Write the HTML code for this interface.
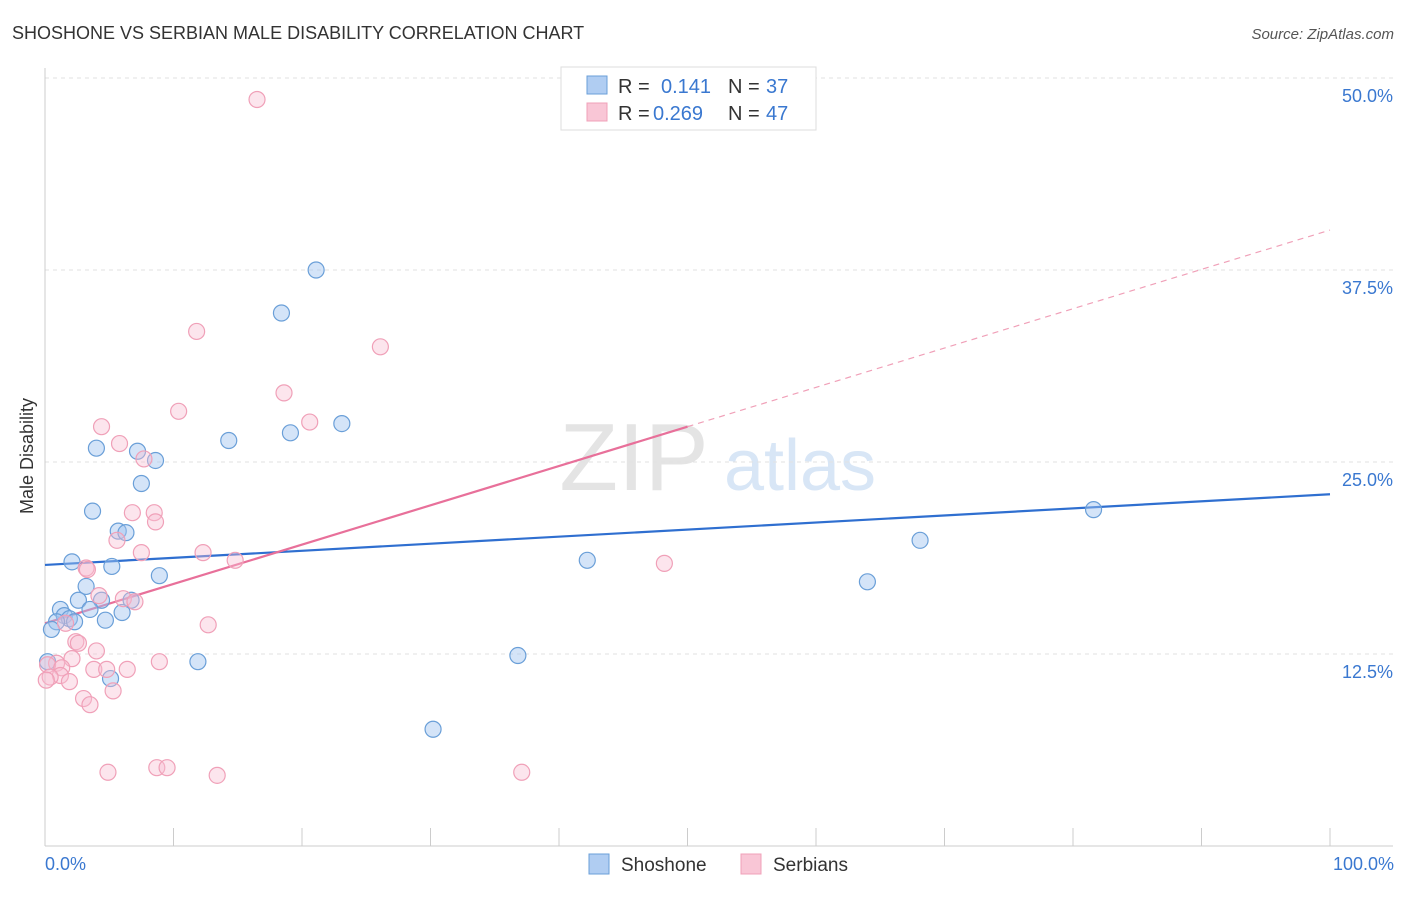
<!DOCTYPE html>
<html><head><meta charset="utf-8"><style>
body{margin:0;background:#fff;font-family:"Liberation Sans",sans-serif;}
svg text{font-family:"Liberation Sans",sans-serif;}
</style></head><body>
<svg id="chart" width="1406" height="892" xmlns="http://www.w3.org/2000/svg">
<text x="12" y="39" font-size="18" fill="#333">SHOSHONE VS SERBIAN MALE DISABILITY CORRELATION CHART</text>
<text x="1394" y="39" font-size="15" fill="#555" text-anchor="end" font-style="italic">Source: ZipAtlas.com</text>
<g>
<text x="634" y="490" font-size="96" fill="#e4e4e4" text-anchor="middle" font-family="Liberation Serif, serif">ZIP</text>
<text x="800" y="490" font-size="72" fill="#d8e6f6" text-anchor="middle">atlas</text>
</g>
<g id="grid"></g>
<g id="axes"></g>
<g id="lines"></g>
<g id="pts"></g>
<text transform="translate(33,456) rotate(-90)" font-size="18" fill="#333" text-anchor="middle">Male Disability</text>
<g>
<rect x="561" y="67" width="255" height="63" fill="#fff" stroke="#ddd"/>
<rect x="587" y="76" width="20" height="18" fill="#b0cdf2" stroke="#6a9fd8"/>
<text x="618" y="93" font-size="20" fill="#333">R = </text><text x="661" y="93" font-size="20" fill="#3a78d0">0.141</text>
<text x="728" y="93" font-size="20" fill="#333">N = </text><text x="766" y="93" font-size="20" fill="#3a78d0">37</text>
<rect x="587" y="103" width="20" height="18" fill="#f9c6d6" stroke="#f0a0b8"/>
<text x="618" y="120" font-size="20" fill="#333">R = </text><text x="653" y="120" font-size="20" fill="#3a78d0">0.269</text>
<text x="728" y="120" font-size="20" fill="#333">N = </text><text x="766" y="120" font-size="20" fill="#3a78d0">47</text>
</g>
<g>
<rect x="589" y="854" width="20" height="20" fill="#b0cdf2" stroke="#6a9fd8"/>
<text x="621" y="871" font-size="19" fill="#333">Shoshone</text>
<rect x="741" y="854" width="20" height="20" fill="#f9c6d6" stroke="#f0a0b8"/>
<text x="773" y="871" font-size="19" fill="#333">Serbians</text>
</g>
<text x="45" y="870" font-size="18" fill="#3a78d0">0.0%</text>
<text x="1394" y="870" font-size="18" fill="#3a78d0" text-anchor="end">100.0%</text>
</svg>
<script>
const yTicks=[12.5,25,37.5,50];
const yTickLabels=["12.5%","25.0%","37.5%","50.0%"];
const shoX=[21.1,18.4,23.1,19.1,14.3,4.0,7.2,8.6,7.5,3.7,5.7,6.3,2.1,5.2,8.9,3.2,2.6,4.4,6.7,1.2,3.5,1.5,6.0,1.9,0.9,2.3,4.7,0.5,11.9,5.1,30.2,36.8,42.2,64.0,68.1,81.6,0.2];
const shoY=[37.5,34.7,27.5,26.9,26.4,25.9,25.7,25.1,23.6,21.8,20.5,20.4,18.5,18.2,17.6,16.9,16.0,16.0,16.0,15.4,15.4,15.0,15.2,14.8,14.6,14.6,14.7,14.1,12.0,10.9,7.6,12.4,18.6,17.2,19.9,21.9,12.0];
const serX=[16.5,11.8,26.1,18.6,10.4,20.6,4.4,5.8,7.7,6.8,8.5,8.6,5.6,7.5,12.3,14.8,48.2,3.2,3.3,4.2,6.1,7.0,1.6,12.7,2.4,2.6,4.0,2.1,8.9,0.9,0.2,3.8,4.8,6.4,1.3,1.2,0.4,0.1,1.9,3.0,5.3,3.5,4.9,8.7,9.5,13.4,37.1];
const serY=[48.6,33.5,32.5,29.5,28.3,27.6,27.3,26.2,25.2,21.7,21.7,21.1,19.9,19.1,19.1,18.6,18.4,18.1,18.0,16.3,16.1,15.9,14.5,14.4,13.3,13.2,12.7,12.2,12.0,11.9,11.8,11.5,11.5,11.5,11.6,11.1,11.0,10.8,10.7,9.6,10.1,9.2,4.8,5.1,5.1,4.6,4.8];
const shoTrend=[18.3,22.9];
const serTrend=[14.5,40.1];
const serSolidEnd=50;
const NS="http://www.w3.org/2000/svg";
const X=v=>45+v*12.85, Y=v=>846-v*15.36;
function mk(t,a,p){const e=document.createElementNS(NS,t);for(const k in a)e.setAttribute(k,a[k]);p.appendChild(e);return e;}
const grid=document.getElementById('grid'),axes=document.getElementById('axes'),lines=document.getElementById('lines'),pts=document.getElementById('pts');
yTicks.forEach((t,i)=>{
 const l=mk('line',{x1:45,x2:1393,y1:Y(t),y2:Y(t),stroke:'#e2e2e2','stroke-dasharray':'4,4'},grid);
 
 
 const tx=mk('text',{x:1393,y:Y(t)+24,'font-size':18,fill:'#3a78d0','text-anchor':'end'},grid);
 tx.textContent=yTickLabels[i];
 
 
});
const xa=mk('line',{x1:45,x2:1393,y1:846,y2:846,stroke:'#ccc'},axes);


const ya=mk('line',{x1:45,x2:45,y1:68,y2:846,stroke:'#ccc'},axes);


for(let i=0;i<=10;i++){const tk=mk('line',{x1:X(i*10),x2:X(i*10),y1:828,y2:846,stroke:'#ccc'},axes);
 
 }
function dot(x,y,f,s,n){const c=mk('circle',{cx:X(x),cy:Y(y),r:8,fill:f,stroke:s,'stroke-width':1.2},pts);
 
 }
shoX.forEach((x,i)=>dot(x,shoY[i],'rgba(160,196,240,0.45)','#6a9fd8','shoshone-point'));
serX.forEach((x,i)=>dot(x,serY[i],'rgba(248,190,210,0.4)','#f0a0b8','serbian-point'));
const b=mk('line',{x1:X(0),y1:Y(shoTrend[0]),x2:X(100),y2:Y(shoTrend[1]),stroke:'#2f6fd0','stroke-width':2.2},lines);


const sv=v=>serTrend[0]+(serTrend[1]-serTrend[0])*v/100;
const p1=mk('line',{x1:X(0),y1:Y(sv(0)),x2:X(serSolidEnd),y2:Y(sv(serSolidEnd)),stroke:'#e8709a','stroke-width':2.2},lines);


const p2=mk('line',{x1:X(serSolidEnd),y1:Y(sv(serSolidEnd)),x2:X(100),y2:Y(sv(100)),stroke:'#f0a0b8','stroke-width':1.2,'stroke-dasharray':'6,5'},lines);


</script>
</body></html>
